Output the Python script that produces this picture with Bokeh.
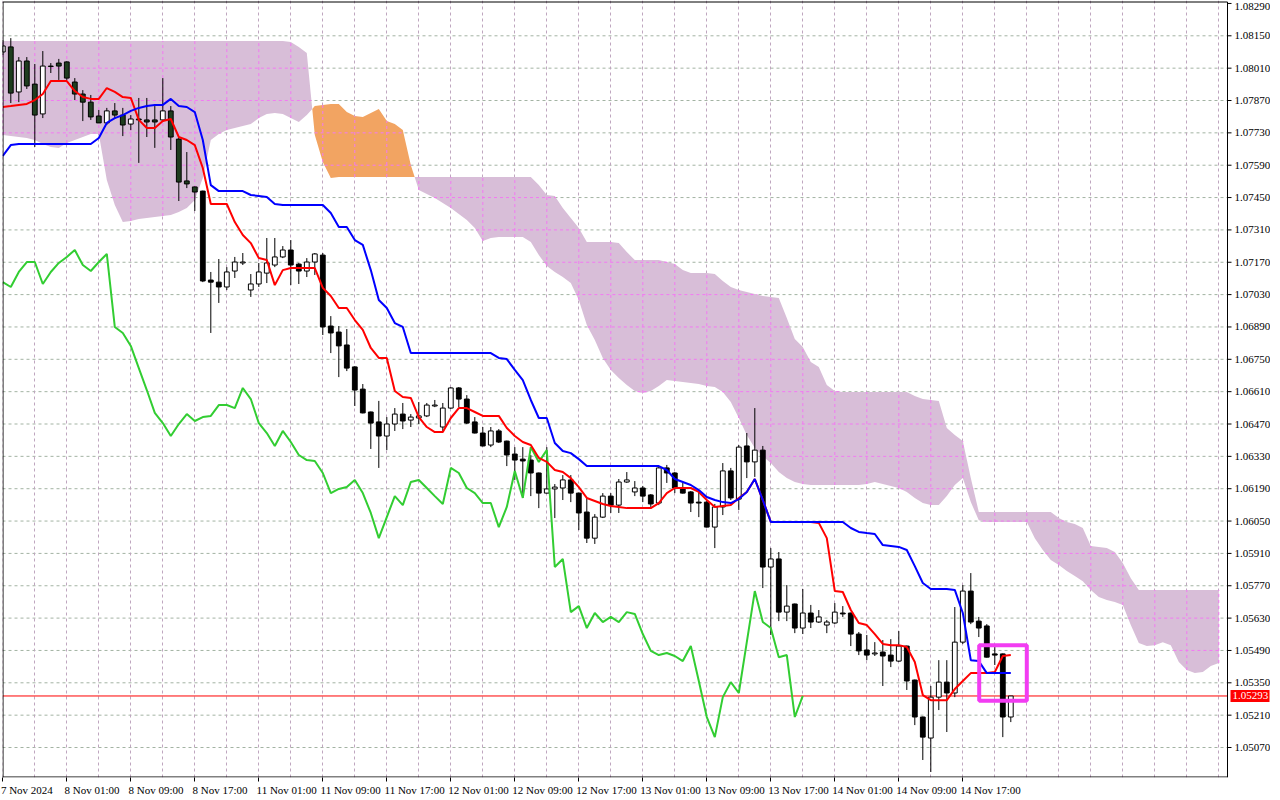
import numpy as np
from bokeh.plotting import figure
from bokeh.models import FixedTicker, Grid, Range1d, ColumnDataSource
from bokeh.core.properties import value
from bokeh.embed import file_html
from bokeh.resources import INLINE

# ---------------- data (EURUSD H1, Ichimoku) ----------------
time_labels = ["7 Nov 2024", "8 Nov 01:00", "8 Nov 09:00", "8 Nov 17:00", "11 Nov 01:00",
               "11 Nov 09:00", "11 Nov 17:00", "12 Nov 01:00", "12 Nov 09:00", "12 Nov 17:00",
               "13 Nov 01:00", "13 Nov 09:00", "13 Nov 17:00", "14 Nov 01:00", "14 Nov 09:00",
               "14 Nov 17:00"]
time_label_bars = [0, 8, 16, 24, 32, 40, 48, 56, 64, 72, 80, 88, 96, 104, 112, 120]

price_ticks = [1.08290, 1.08150, 1.08010, 1.07870, 1.07730, 1.07590, 1.07450, 1.07310,
               1.07170, 1.07030, 1.06890, 1.06750, 1.06610, 1.06470, 1.06330, 1.06190,
               1.06050, 1.05910, 1.05770, 1.05630, 1.05490, 1.05350, 1.05210, 1.05070]

last_price = 1.05293

open_ = [1.08080, 1.08102, 1.07907, 1.08041, 1.07941, 1.07812, 1.08019, 1.08032, 1.08037, 1.07950,
         1.07898, 1.07863, 1.07803, 1.07773, 1.07825, 1.07807, 1.07768, 1.07790, 1.07786, 1.07786,
         1.07786, 1.07825, 1.07703, 1.07522, 1.07496, 1.07478, 1.07093, 1.07084, 1.07063, 1.07132,
         1.07167, 1.07050, 1.07076, 1.07123, 1.07158, 1.07193, 1.07223, 1.07162, 1.07132, 1.07171,
         1.07201, 1.06894, 1.06868, 1.06812, 1.06717, 1.06621, 1.06522, 1.06479, 1.06418, 1.06470,
         1.06513, 1.06487, 1.06496, 1.06505, 1.06548, 1.06457, 1.06539, 1.06626, 1.06578, 1.06479,
         1.06431, 1.06379, 1.06440, 1.06396, 1.06340, 1.06318, 1.06314, 1.06258, 1.06171, 1.06189,
         1.06193, 1.06228, 1.06171, 1.06089, 1.05976, 1.06067, 1.06158, 1.06119, 1.06219, 1.06176,
         1.06193, 1.06163, 1.06128, 1.06280, 1.06258, 1.06193, 1.06176, 1.06132, 1.06132, 1.06024,
         1.06111, 1.06267, 1.06145, 1.06375, 1.06306, 1.06357, 1.05851, 1.05886, 1.05656, 1.05691,
         1.05587, 1.05652, 1.05613, 1.05600, 1.05609, 1.05652, 1.05652, 1.05561, 1.05492, 1.05475,
         1.05483, 1.05470, 1.05444, 1.05509, 1.05362, 1.05202, 1.05111, 1.05288, 1.05353, 1.05306,
         1.05526, 1.05747, 1.05617, 1.05596, 1.05475, 1.05475, 1.05202]

high = [1.08132, 1.08140, 1.08058, 1.08058, 1.08028, 1.08084, 1.08032, 1.08050, 1.08040, 1.07967,
        1.07915, 1.07894, 1.07829, 1.07838, 1.07859, 1.07838, 1.07807, 1.07881, 1.07881, 1.07846,
        1.07967, 1.07846, 1.07712, 1.07647, 1.07498, 1.07480, 1.07128, 1.07184, 1.07149, 1.07193,
        1.07210, 1.07119, 1.07167, 1.07275, 1.07275, 1.07240, 1.07266, 1.07167, 1.07188, 1.07210,
        1.07210, 1.06937, 1.06894, 1.06881, 1.06720, 1.06643, 1.06524, 1.06570, 1.06500, 1.06539,
        1.06561, 1.06513, 1.06565, 1.06561, 1.06574, 1.06561, 1.06630, 1.06630, 1.06595, 1.06500,
        1.06457, 1.06457, 1.06448, 1.06398, 1.06370, 1.06370, 1.06336, 1.06260, 1.06370, 1.06210,
        1.06249, 1.06249, 1.06173, 1.06150, 1.06080, 1.06171, 1.06171, 1.06232, 1.06262, 1.06223,
        1.06202, 1.06167, 1.06284, 1.06293, 1.06262, 1.06215, 1.06180, 1.06176, 1.06137, 1.06124,
        1.06301, 1.06280, 1.06379, 1.06431, 1.06539, 1.06375, 1.05933, 1.05916, 1.05773, 1.05693,
        1.05756, 1.05687, 1.05665, 1.05622, 1.05695, 1.05682, 1.05654, 1.05570, 1.05557, 1.05526,
        1.05535, 1.05539, 1.05574, 1.05511, 1.05364, 1.05204, 1.05336, 1.05448, 1.05448, 1.05678,
        1.05773, 1.05825, 1.05635, 1.05604, 1.05513, 1.05477, 1.05293]

low = [1.08067, 1.07859, 1.07863, 1.07920, 1.07669, 1.07794, 1.07989, 1.07959, 1.07959, 1.07872,
       1.07781, 1.07786, 1.07773, 1.07764, 1.07790, 1.07716, 1.07742, 1.07600, 1.07712, 1.07665,
       1.07777, 1.07656, 1.07435, 1.07491, 1.07392, 1.07084, 1.06864, 1.06994, 1.07050, 1.07102,
       1.07158, 1.07020, 1.07063, 1.07080, 1.07149, 1.07188, 1.07071, 1.07076, 1.07106, 1.07115,
       1.06855, 1.06777, 1.06673, 1.06699, 1.06548, 1.06516, 1.06362, 1.06280, 1.06357, 1.06440,
       1.06448, 1.06457, 1.06470, 1.06500, 1.06543, 1.06435, 1.06535, 1.06543, 1.06470, 1.06429,
       1.06373, 1.06370, 1.06388, 1.06288, 1.06228, 1.06150, 1.06158, 1.06106, 1.06169, 1.06063,
       1.06141, 1.06132, 1.06011, 1.05955, 1.05951, 1.06063, 1.06085, 1.06085, 1.06215, 1.06158,
       1.06132, 1.06111, 1.06119, 1.06215, 1.06171, 1.06169, 1.06089, 1.06067, 1.06022, 1.05933,
       1.06076, 1.06141, 1.06098, 1.06236, 1.06241, 1.05760, 1.05557, 1.05617, 1.05617, 1.05565,
       1.05561, 1.05587, 1.05609, 1.05565, 1.05604, 1.05635, 1.05509, 1.05470, 1.05448, 1.05466,
       1.05336, 1.05418, 1.05440, 1.05319, 1.05167, 1.05016, 1.04964, 1.05232, 1.05137, 1.05288,
       1.05518, 1.05604, 1.05548, 1.05459, 1.05427, 1.05115, 1.05180]

close = [1.08106, 1.07902, 1.08041, 1.07933, 1.07807, 1.08019, 1.08017, 1.08019, 1.07967, 1.07898,
         1.07863, 1.07799, 1.07773, 1.07825, 1.07807, 1.07764, 1.07790, 1.07786, 1.07777, 1.07777,
         1.07825, 1.07712, 1.07517, 1.07509, 1.07474, 1.07089, 1.07084, 1.07063, 1.07128, 1.07171,
         1.07171, 1.07076, 1.07128, 1.07167, 1.07193, 1.07223, 1.07158, 1.07132, 1.07171, 1.07206,
         1.06890, 1.06864, 1.06808, 1.06712, 1.06617, 1.06518, 1.06474, 1.06418, 1.06470, 1.06513,
         1.06483, 1.06500, 1.06505, 1.06552, 1.06552, 1.06539, 1.06626, 1.06578, 1.06474, 1.06431,
         1.06375, 1.06440, 1.06392, 1.06336, 1.06314, 1.06310, 1.06258, 1.06171, 1.06189, 1.06197,
         1.06228, 1.06171, 1.06085, 1.05976, 1.06067, 1.06158, 1.06119, 1.06219, 1.06228, 1.06193,
         1.06158, 1.06124, 1.06280, 1.06258, 1.06193, 1.06171, 1.06128, 1.06128, 1.06024, 1.06111,
         1.06267, 1.06150, 1.06370, 1.06306, 1.06357, 1.05851, 1.05886, 1.05656, 1.05682, 1.05587,
         1.05652, 1.05613, 1.05635, 1.05613, 1.05656, 1.05648, 1.05561, 1.05488, 1.05470, 1.05479,
         1.05466, 1.05444, 1.05509, 1.05358, 1.05202, 1.05115, 1.05288, 1.05353, 1.05306, 1.05526,
         1.05747, 1.05613, 1.05587, 1.05461, 1.05470, 1.05202, 1.05293]

tenkan = [1.07842, 1.07846, 1.07851, 1.07855, 1.07872, 1.07898, 1.07954, 1.07954, 1.07954, 1.07911,
          1.07885, 1.07877, 1.07877, 1.07924, 1.07907, 1.07885, 1.07881, 1.07786, 1.07751, 1.07751,
          1.07781, 1.07790, 1.07712, 1.07699, 1.07677, 1.07578, 1.07422, 1.07422, 1.07422, 1.07344,
          1.07288, 1.07253, 1.07188, 1.07180, 1.07071, 1.07136, 1.07145, 1.07145, 1.07145, 1.07145,
          1.07059, 1.07024, 1.06972, 1.06972, 1.06920, 1.06877, 1.06799, 1.06756, 1.06756, 1.06613,
          1.06587, 1.06583, 1.06500, 1.06457, 1.06435, 1.06435, 1.06496, 1.06539, 1.06539, 1.06522,
          1.06505, 1.06505, 1.06505, 1.06453, 1.06418, 1.06392, 1.06379, 1.06323, 1.06306, 1.06271,
          1.06262, 1.06236, 1.06197, 1.06150, 1.06137, 1.06124, 1.06115, 1.06111, 1.06106, 1.06106,
          1.06106, 1.06106, 1.06128, 1.06171, 1.06193, 1.06193, 1.06193, 1.06176, 1.06141, 1.06111,
          1.06115, 1.06119, 1.06150, 1.06176, 1.06232, 1.06141, 1.06046, 1.06046, 1.06046, 1.06046,
          1.06046, 1.06046, 1.06042, 1.05976, 1.05747, 1.05743, 1.05665, 1.05609, 1.05600, 1.05561,
          1.05518, 1.05513, 1.05513, 1.05505, 1.05440, 1.05297, 1.05275, 1.05275, 1.05275, 1.05323,
          1.05358, 1.05392, 1.05392, 1.05392, 1.05397, 1.05466, 1.05470]

kijun = [1.07630, 1.07677, 1.07682, 1.07682, 1.07682, 1.07682, 1.07682, 1.07682, 1.07682, 1.07682,
         1.07682, 1.07682, 1.07708, 1.07773, 1.07794, 1.07807, 1.07825, 1.07838, 1.07846, 1.07851,
         1.07851, 1.07877, 1.07846, 1.07842, 1.07820, 1.07699, 1.07504, 1.07478, 1.07478, 1.07478,
         1.07478, 1.07461, 1.07457, 1.07452, 1.07422, 1.07418, 1.07418, 1.07418, 1.07418, 1.07418,
         1.07418, 1.07383, 1.07323, 1.07323, 1.07266, 1.07245, 1.07136, 1.07007, 1.06972, 1.06907,
         1.06890, 1.06777, 1.06777, 1.06777, 1.06777, 1.06777, 1.06777, 1.06777, 1.06777, 1.06777,
         1.06777, 1.06777, 1.06756, 1.06751, 1.06704, 1.06660, 1.06574, 1.06496, 1.06496, 1.06388,
         1.06353, 1.06344, 1.06318, 1.06288, 1.06288, 1.06288, 1.06288, 1.06288, 1.06288, 1.06288,
         1.06288, 1.06288, 1.06288, 1.06271, 1.06232, 1.06219, 1.06206, 1.06184, 1.06154, 1.06141,
         1.06132, 1.06128, 1.06145, 1.06176, 1.06232, 1.06141, 1.06046, 1.06046, 1.06046, 1.06046,
         1.06046, 1.06046, 1.06046, 1.06046, 1.06046, 1.06046, 1.06020, 1.06003, 1.05998, 1.05994,
         1.05946, 1.05942, 1.05938, 1.05925, 1.05855, 1.05782, 1.05756, 1.05756, 1.05756, 1.05752,
         1.05652, 1.05448, 1.05444, 1.05392, 1.05392, 1.05392, 1.05392]

# Chikou span, drawn 26 bars back (bars 0..100)
chikou = [1.07084, 1.07063, 1.07128, 1.07171, 1.07171, 1.07076, 1.07128, 1.07167, 1.07193, 1.07223,
          1.07158, 1.07132, 1.07171, 1.07206, 1.06890, 1.06864, 1.06808, 1.06712, 1.06617, 1.06518,
          1.06474, 1.06418, 1.06470, 1.06513, 1.06483, 1.06500, 1.06505, 1.06552, 1.06552, 1.06539,
          1.06626, 1.06578, 1.06474, 1.06431, 1.06375, 1.06440, 1.06392, 1.06336, 1.06314, 1.06310,
          1.06258, 1.06171, 1.06189, 1.06197, 1.06228, 1.06171, 1.06085, 1.05976, 1.06067, 1.06158,
          1.06119, 1.06219, 1.06228, 1.06193, 1.06158, 1.06124, 1.06280, 1.06258, 1.06193, 1.06171,
          1.06128, 1.06128, 1.06024, 1.06111, 1.06267, 1.06150, 1.06370, 1.06306, 1.06357, 1.05851,
          1.05886, 1.05656, 1.05682, 1.05587, 1.05652, 1.05613, 1.05635, 1.05613, 1.05656, 1.05648,
          1.05561, 1.05488, 1.05470, 1.05479, 1.05466, 1.05444, 1.05509, 1.05358, 1.05202, 1.05115,
          1.05288, 1.05353, 1.05306, 1.05526, 1.05747, 1.05613, 1.05587, 1.05461, 1.05470, 1.05202,
          1.05293]

# Senkou spans, drawn 26 bars ahead (bars 0..152)
span_a = [1.07721, 1.07716, 1.07712, 1.07708, 1.07699, 1.07682, 1.07669, 1.07665, 1.07686, 1.07699,
          1.07712, 1.07725, 1.07725, 1.07526, 1.07418, 1.07344, 1.07349, 1.07357, 1.07362, 1.07366,
          1.07370, 1.07375, 1.07388, 1.07405, 1.07439, 1.07535, 1.07699, 1.07725, 1.07742, 1.07751,
          1.07760, 1.07768, 1.07794, 1.07812, 1.07816, 1.07812, 1.07794, 1.07777, 1.07807, 1.07846,
          1.07851, 1.07855, 1.07855, 1.07820, 1.07803, 1.07799, 1.07816, 1.07833, 1.07781, 1.07768,
          1.07742, 1.07591, 1.07483, 1.07465, 1.07448, 1.07426, 1.07405, 1.07379, 1.07353, 1.07318,
          1.07262, 1.07275, 1.07279, 1.07279, 1.07279, 1.07279, 1.07258, 1.07201, 1.07154, 1.07128,
          1.07106, 1.07080, 1.07007, 1.06898, 1.06834, 1.06756, 1.06704, 1.06669, 1.06639, 1.06613,
          1.06604, 1.06613, 1.06634, 1.06660, 1.06656, 1.06652, 1.06647, 1.06643, 1.06634, 1.06630,
          1.06608, 1.06565, 1.06496, 1.06422, 1.06366, 1.06331, 1.06301, 1.06262, 1.06236, 1.06219,
          1.06210, 1.06206, 1.06206, 1.06206, 1.06206, 1.06206, 1.06206, 1.06206, 1.06210, 1.06219,
          1.06210, 1.06202, 1.06193, 1.06176, 1.06150, 1.06128, 1.06119, 1.06119, 1.06158, 1.06206,
          1.06236, 1.06132, 1.06054, 1.06046, 1.06046, 1.06046, 1.06046, 1.06046, 1.06046, 1.05976,
          1.05925, 1.05881, 1.05860, 1.05834, 1.05812, 1.05790, 1.05752, 1.05721, 1.05708, 1.05700,
          1.05687, 1.05600, 1.05522, 1.05509, 1.05513, 1.05526, 1.05513, 1.05440, 1.05405, 1.05392,
          1.05397, 1.05423, 1.05436]

span_b = [1.08128, 1.08128, 1.08128, 1.08128, 1.08128, 1.08128, 1.08128, 1.08128, 1.08128, 1.08128,
          1.08128, 1.08128, 1.08128, 1.08128, 1.08128, 1.08128, 1.08128, 1.08128, 1.08128, 1.08128,
          1.08128, 1.08128, 1.08128, 1.08128, 1.08128, 1.08128, 1.08128, 1.08128, 1.08128, 1.08128,
          1.08128, 1.08128, 1.08128, 1.08128, 1.08128, 1.08128, 1.08123, 1.08102, 1.08076, 1.07721,
          1.07604, 1.07535, 1.07539, 1.07539, 1.07539, 1.07539, 1.07539, 1.07539, 1.07539, 1.07539,
          1.07539, 1.07539, 1.07539, 1.07539, 1.07539, 1.07539, 1.07539, 1.07539, 1.07539, 1.07539,
          1.07539, 1.07539, 1.07539, 1.07539, 1.07539, 1.07539, 1.07539, 1.07504, 1.07461, 1.07457,
          1.07405, 1.07362, 1.07318, 1.07258, 1.07258, 1.07258, 1.07258, 1.07253, 1.07214, 1.07180,
          1.07180, 1.07180, 1.07180, 1.07171, 1.07162, 1.07136, 1.07123, 1.07123, 1.07123, 1.07119,
          1.07089, 1.07063, 1.07050, 1.07041, 1.07033, 1.07024, 1.07020, 1.07015, 1.06929, 1.06838,
          1.06803, 1.06738, 1.06717, 1.06639, 1.06613, 1.06608, 1.06608, 1.06608, 1.06608, 1.06608,
          1.06608, 1.06608, 1.06608, 1.06608, 1.06591, 1.06578, 1.06574, 1.06570, 1.06453, 1.06422,
          1.06396, 1.06236, 1.06089, 1.06089, 1.06089, 1.06089, 1.06089, 1.06089, 1.06089, 1.06089,
          1.06089, 1.06089, 1.06063, 1.06046, 1.06037, 1.06020, 1.05942, 1.05938, 1.05933, 1.05916,
          1.05868, 1.05803, 1.05752, 1.05752, 1.05752, 1.05752, 1.05752, 1.05752, 1.05752, 1.05752,
          1.05752, 1.05752, 1.05752]

# highlighted box (bars / prices)
box_bars = [122.05, 128.0]
box_prices = [1.05272, 1.05512]

# ---------------- layout constants (pixels -> data units) ----------------
BAR_PX = 8.0                      # one bar = 8 px
FW, FH = 1268, 777                # frame size in px
X0 = -0.0375
X1 = X0 + FW / BAR_PX
Y1 = 1.083028
PX = 0.0014 / 32.35               # price per px
Y0 = Y1 - FH * PX
XA = (1227.0 - 2.3) / BAR_PX      # price-scale (right axis) position, in bars
FONT = "Liberation Sans Narrow"
FSIZE = "11px"

p = figure(frame_width=FW, frame_height=FH,
           x_range=Range1d(X0, X1), y_range=Range1d(Y0, Y1),
           y_axis_location=None, output_backend="svg", toolbar_location=None,
           min_border_left=2, min_border_top=0, min_border_right=0, min_border_bottom=14,
           background_fill_color="white", border_fill_color="white")
p.outline_line_color = None
p.xgrid.visible = False
p.ygrid.visible = False

grid_bars = list(range(0, 153, 4))
grid_prices = price_ticks[1:]     # the top level coincides with the chart border

# grids (below the cloud)
p.add_layout(Grid(dimension=0, ticker=FixedTicker(ticks=grid_bars), level="image",
                  grid_line_color="#bfa6bf", grid_line_dash="3 3", grid_line_width=1))
hg = p.multi_line([[X0, XA] for _ in grid_prices], [[t, t] for t in grid_prices],
                  line_color="#a3b3a3", line_dash="3 3", line_width=1)
hg.level = "image"

# cloud (Senkou A / B), colour by which span is on top
A = np.array(span_a); B = np.array(span_b)
xs, ya, yb = [], [], []
for i in range(len(A) - 1):
    xs.append(i); ya.append(A[i]); yb.append(B[i])
    d0 = A[i] - B[i]; d1 = A[i + 1] - B[i + 1]
    if d0 * d1 < 0:
        t = d0 / (d0 - d1)
        yc = A[i] + t * (A[i + 1] - A[i])
        xs.append(i + t); ya.append(yc); yb.append(yc)
xs.append(len(A) - 1); ya.append(A[-1]); yb.append(B[-1])
xs = np.array(xs); ya = np.array(ya); yb = np.array(yb); top = np.maximum(ya, yb)
r1 = p.varea(x=xs, y1=ya, y2=top, fill_color="#d8bed8")
r2 = p.varea(x=xs, y1=yb, y2=top, fill_color="#f2a462")
r1.level = "underlay"; r2.level = "underlay"

# grid lines seen through the cloud (pink)
fx = np.linspace(0, len(A) - 1, (len(A) - 1) * 40 + 1)
fa = np.interp(fx, xs, ya); fb = np.interp(fx, xs, yb)
clo = np.minimum(fa, fb); chi = np.maximum(fa, fb)
gx, gy = [], []
for tk in grid_prices:
    inside = (clo <= tk) & (tk <= chi) & (chi - clo > 1e-6)
    k = 0
    while k < len(fx):
        if inside[k]:
            s = k
            while k < len(fx) and inside[k]:
                k += 1
            gx.append([fx[s], fx[k - 1]]); gy.append([tk, tk])
        else:
            k += 1
for g in grid_bars:
    lo_g, hi_g = min(A[g], B[g]), max(A[g], B[g])
    if hi_g - lo_g > 1e-6:
        gx.append([g, g]); gy.append([lo_g, hi_g])
p.multi_line(gx, gy, line_color="#f27af2", line_dash="3 3", line_width=1)

# bid line
p.segment(x0=[X0], y0=[last_price], x1=[XA], y1=[last_price], line_color="#ff0000", line_width=1)

# candles (bearish bodies lying inside the cloud look dark green, as in the terminal)
idx = np.arange(len(open_))
o = np.array(open_); c = np.array(close)
btop = np.maximum(o, c); bbot = np.minimum(o, c)
cols = []
for i in idx:
    if c[i] >= o[i]:
        cols.append("white")
    else:
        lo_c, hi_c = min(A[i], B[i]), max(A[i], B[i])
        cols.append("#1f3d1f" if (bbot[i] >= lo_c and btop[i] <= hi_c) else "black")
src = ColumnDataSource(dict(x=idx, lo=low, hi=high, top=btop, bot=bbot, col=cols))
p.segment(x0="x", y0="lo", x1="x", y1="hi", source=src, line_color="black", line_width=1)
p.vbar(x="x", top="top", bottom="bot", width=0.6, fill_color="col", line_color="black",
       line_width=1, source=src)

# Ichimoku lines
p.line(np.arange(len(chikou)), chikou, line_color="#32cd32", line_width=2)
p.line(idx, tenkan, line_color="#ff0000", line_width=2)
p.line(idx, kijun, line_color="#0000ff", line_width=2)

# highlighted box
p.quad(left=[box_bars[0]], right=[box_bars[1]], bottom=[box_prices[0]], top=[box_prices[1]],
       fill_color=None, line_color="#f23cf2", line_width=4)

# ---------------- chart border + right price scale ----------------
YT = Y1 - 1.5 * PX
p.segment(x0=[X0 + 0.5 / BAR_PX, X0, XA, X0], y0=[Y0, YT, Y0, Y0 + 0.5 * PX],
          x1=[X0 + 0.5 / BAR_PX, XA, XA, XA], y1=[YT, YT, YT, Y0 + 0.5 * PX],
          line_color="black", line_width=1)
p.segment(x0=[XA] * len(price_ticks), y0=price_ticks,
          x1=[XA + 4 / BAR_PX] * len(price_ticks), y1=price_ticks, line_color="black", line_width=1)
label_y = [min(t, Y1 - 5.5 * PX) for t in price_ticks]
p.text(x=[XA + 7 / BAR_PX] * len(price_ticks), y=label_y, text=[f"{t:.5f}" for t in price_ticks],
       text_font=value(FONT), text_font_size=value(FSIZE), text_color="black",
       text_baseline="middle", text_align="left")

# bid price tag on the scale
p.quad(left=[XA + 3 / BAR_PX], right=[XA + 42 / BAR_PX],
       bottom=[last_price - 6 * PX], top=[last_price + 6 * PX],
       fill_color="#ff0000", line_color=None)
p.text(x=[XA + 5 / BAR_PX], y=[last_price], text=[f"{last_price:.5f}"],
       text_font=value(FONT), text_font_size=value(FSIZE), text_color="white",
       text_baseline="middle", text_align="left")

# ---------------- time axis ----------------
cw = {" ": 2.51, ":": 2.51, "N": 6.51, "o": 5.01, "v": 4.51}
centers = []
for b, t in zip(time_label_bars, time_labels):
    w = sum(cw.get(ch, 5.01) for ch in t)
    start = max(b + 1.0 / BAR_PX, X0 + 0.1)
    centers.append(round(start + (w / 2) / BAR_PX, 3))
xax = p.xaxis[0]
xax.ticker = FixedTicker(ticks=centers, minor_ticks=time_label_bars)
xax.major_label_overrides = {cc: t for cc, t in zip(centers, time_labels)}
xax.major_tick_line_color = None
xax.major_tick_in = 0; xax.major_tick_out = 0
xax.minor_tick_in = 0; xax.minor_tick_out = 4
xax.minor_tick_line_color = "black"
xax.major_label_standoff = 2
xax.major_label_text_font = FONT
xax.major_label_text_font_size = FSIZE
xax.major_label_text_color = "black"
xax.axis_line_color = None

open("out.html", "w").write(file_html(p, INLINE))
